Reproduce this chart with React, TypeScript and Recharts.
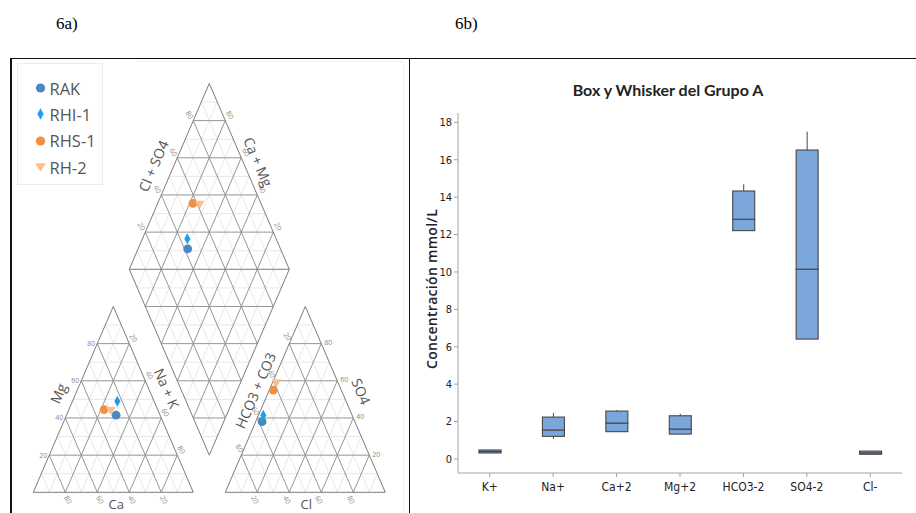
import React from "react";
import {
  ScatterChart,
  Scatter,
  XAxis,
  YAxis,
  ReferenceLine,
  Legend,
  ComposedChart,
  Bar,
} from "recharts";

// ---- Piper data (percent of meq) ----
const SAMPLES = ["RAK", "RHI-1", "RHS-1", "RH-2"];
const CA = [27.5, 23, 33.5, 29.5];
const MG = [41.5, 49, 44.5, 44];
const NAK = [31, 28, 22, 26.5];
const HCO3 = [58, 55.5, 42.5, 38.5];
const SO4 = [38, 41.5, 55, 59];
const CL = [4, 3, 2.5, 2.5];
const SAMPLE_COLORS = ["#4a88c1", "#1a9fea", "#f28f40", "#f8c08e"];
const SAMPLE_SHAPES = ["circle", "diamond", "circle", "triangle"];
const PIPER_TICKS = [20, 40, 60, 80];

// ---- box plot data (mmol/L) ----
const IONS = ["K+", "Na+", "Ca+2", "Mg+2", "HCO3-2", "SO4-2", "Cl-"];
const ION_MIN = [0.32, 1.07, 1.46, 1.33, 12.21, 6.41, 0.25];
const ION_Q1 = [0.32, 1.21, 1.46, 1.33, 12.21, 6.41, 0.25];
const ION_MEDIAN = [0.4, 1.55, 1.92, 1.6, 12.82, 10.15, 0.33];
const ION_Q3 = [0.48, 2.24, 2.56, 2.31, 14.33, 16.52, 0.42];
const ION_MAX = [0.48, 2.46, 2.62, 2.42, 14.69, 17.5, 0.42];
const Y_TICKS = [0, 2, 4, 6, 8, 10, 12, 14, 16, 18];

type Pt = { x: number; y: number };
const lerp = (p: Pt, q: Pt, t: number): Pt => ({ x: p.x + (q.x - p.x) * t, y: p.y + (q.y - p.y) * t });

// piper geometry, triangle side = 1
const GAP = 0.2;
const H = Math.sqrt(3) / 2;
const catA = { x: 0, y: 0 };
const catB = { x: 1, y: 0 };
const catC = { x: 0.5, y: H };
const anA = { x: 1 + GAP, y: 0 };
const anB = { x: 2 + GAP, y: 0 };
const anC = { x: 1.5 + GAP, y: H };
const dB = { x: 1 + GAP / 2, y: GAP * H };
const dL = { x: dB.x - 0.5, y: dB.y + H };
const dR = { x: dB.x + 0.5, y: dB.y + H };
const dT = { x: dB.x, y: dB.y + 2 * H };

const cationPt = (i: number): Pt => ({
  x: (NAK[i] + 0.5 * MG[i]) / 100,
  y: (H * MG[i]) / 100,
});
const anionPt = (i: number): Pt => ({
  x: anA.x + (CL[i] + 0.5 * SO4[i]) / 100,
  y: (H * SO4[i]) / 100,
});
const diamondPt = (i: number): Pt => {
  const a = (CL[i] + SO4[i]) / 100;
  const c = NAK[i] / 100;
  return {
    x: dL.x + a * (dT.x - dL.x) + c * (dB.x - dL.x),
    y: dL.y + a * (dT.y - dL.y) + c * (dB.y - dL.y),
  };
};

type Seg = { p: Pt; q: Pt; major: boolean };
function triangleGrid(A: Pt, B: Pt, C: Pt): Seg[] {
  const segs: Seg[] = [];
  for (let i = 1; i < 10; i++) {
    const t = i / 10;
    const major = i % 2 === 0;
    segs.push({ p: lerp(A, C, t), q: lerp(B, C, t), major });
    segs.push({ p: lerp(A, B, t), q: lerp(C, B, t), major });
    segs.push({ p: lerp(B, A, t), q: lerp(C, A, t), major });
  }
  return segs;
}
const gridSegs = [
  ...triangleGrid(catA, catB, catC),
  ...triangleGrid(anA, anB, anC),
  ...triangleGrid(dL, dR, dT),
  ...triangleGrid(dL, dR, dB),
];
const outlineSegs: [Pt, Pt][] = [
  [catA, catB], [catB, catC], [catC, catA],
  [anA, anB], [anB, anC], [anC, anA],
  [dL, dT], [dT, dR], [dR, dB], [dB, dL], [dL, dR],
];

type Lbl = Pt & { text: string; dx: number; dy: number; angle: number; size: number; color: string; anchor?: string };
const TICK_COLOR = "#8a8a8a";
const TITLE_COLOR = "#555";
const tickLbl = (p: Pt, v: number, dx: number, dy: number, angle: number, anchor?: string): Lbl => ({
  ...p, text: String(v), dx, dy, angle, size: 7, color: TICK_COLOR, anchor,
});
const titleLbl = (p: Pt, text: string, dx: number, dy: number, angle: number, size = 14): Lbl => ({
  ...p, text, dx, dy, angle, size, color: TITLE_COLOR,
});
const piperLabels: Lbl[] = [
  ...PIPER_TICKS.map((v) => tickLbl(lerp(catA, catC, v / 100), v, -2, 0, 0, "end")),
  ...PIPER_TICKS.map((v) => tickLbl(lerp(catC, catB, v / 100), v, 4, -5.5, 60)),
  ...PIPER_TICKS.map((v) => tickLbl(lerp(catB, catA, v / 100), v, 2.5, 7.5, 60)),
  ...PIPER_TICKS.map((v) => tickLbl(lerp(anC, anA, v / 100), v, -2, -7, 60)),
  ...PIPER_TICKS.map((v) => tickLbl(lerp(anB, anC, v / 100), v, 3, -1, 0, "start")),
  ...PIPER_TICKS.map((v) => tickLbl(lerp(anA, anB, v / 100), v, -2.5, 7.5, 60)),
  ...PIPER_TICKS.map((v) => tickLbl(lerp(dL, dT, v / 100), v, -4, -5.6, 60)),
  ...PIPER_TICKS.map((v) => tickLbl(lerp(dR, dT, v / 100), v, 4.5, -5.6, 60)),
  titleLbl(lerp(catA, catC, 0.5), "Mg", -15, -6, -66.7),
  titleLbl(lerp(catB, catC, 0.5), "Na + K", 13.5, -11, 66.7),
  titleLbl(lerp(catA, catB, 0.5), "Ca", 3, 12, 0, 13),
  titleLbl(lerp(anA, anC, 0.5), "HCO3 + CO3", -10, -9, -66.7),
  titleLbl(lerp(anB, anC, 0.5), "SO4", 16, -8, 66.7),
  titleLbl(lerp(anA, anB, 0.5), "Cl", 1, 12, 0, 13),
  titleLbl(lerp(dL, dT, 0.5), "Cl + SO4", -16, -10.5, -66.7),
  titleLbl(lerp(dT, dR, 0.5), "Ca + Mg", 9, -14.5, 66.7),
];

const PiperText = (props: any) => {
  const { cx, cy, payload } = props;
  if (cx == null || cy == null) return null;
  const x = cx + payload.dx;
  const y = cy + payload.dy;
  return (
    <text
      x={x}
      y={y}
      textAnchor={payload.anchor ?? "middle"}
      dominantBaseline="central"
      transform={payload.angle ? `rotate(${payload.angle} ${x} ${y})` : undefined}
      fontSize={payload.size}
      fill={payload.color}
      fontFamily="'Open Sans', sans-serif"
    >
      {payload.text}
    </text>
  );
};

const Marker = ({ cx, cy, kind, color, k = 1 }: { cx: number; cy: number; kind: string; color: string; k?: number }) => {
  if (kind === "diamond")
    return <path d={`M${cx},${cy - 5.5 * k} L${cx + 3 * k},${cy} L${cx},${cy + 5.5 * k} L${cx - 3 * k},${cy} Z`} fill={color} />;
  if (kind === "triangle")
    return <path d={`M${cx - 5 * k},${cy - 3.5 * k} L${cx + 5 * k},${cy - 3.5 * k} L${cx},${cy + 4.5 * k} Z`} fill={color} />;
  return <circle cx={cx} cy={cy} r={4.4 * k} fill={color} />;
};

const PiperLegend = () => (
  <div
    style={{
      width: 86,
      height: 122,
      border: "1px solid #ececec",
      boxSizing: "border-box",
      paddingTop: 11,
      fontFamily: "'Open Sans', sans-serif",
      fontSize: 16.5,
      color: "#555",
    }}
  >
    {SAMPLES.map((s, i) => (
      <div key={s} style={{ display: "flex", alignItems: "center", height: 26.3 }}>
        <svg width={32} height={20} style={{ flex: "none" }}>
          <Marker cx={22.5} cy={10} kind={SAMPLE_SHAPES[i]} color={SAMPLE_COLORS[i]} k={1.05} />
        </svg>
        <span>{s}</span>
      </div>
    ))}
  </div>
);

const PiperDiagram = () => (
  <ScatterChart width={400} height={455} margin={{ top: 0, right: 0, bottom: 0, left: 0 }}>
    <XAxis type="number" dataKey="x" domain={[-0.1456, 2.3544]} allowDataOverflow hide />
    <YAxis type="number" dataKey="y" domain={[-0.0964, 2.0238]} allowDataOverflow hide />
    {gridSegs
      .filter((s) => !s.major)
      .map((s, i) => (
        <ReferenceLine key={`mi${i}`} segment={[s.p, s.q]} stroke="#e2e2e2" strokeWidth={0.8} ifOverflow="visible" />
      ))}
    {gridSegs
      .filter((s) => s.major)
      .map((s, i) => (
        <ReferenceLine key={`ma${i}`} segment={[s.p, s.q]} stroke="#959595" strokeWidth={1} ifOverflow="visible" />
      ))}
    {outlineSegs.map(([p, q], i) => (
      <ReferenceLine key={`o${i}`} segment={[p, q]} stroke="#7c7c7c" strokeWidth={1} ifOverflow="visible" />
    ))}
    <Scatter data={piperLabels} shape={PiperText} isAnimationActive={false} legendType="none" />
    {SAMPLES.map((s, i) => (
      <Scatter
        key={s}
        name={s}
        data={[cationPt(i), anionPt(i), diamondPt(i)]}
        isAnimationActive={false}
        shape={(p: any) => <Marker cx={p.cx} cy={p.cy} kind={SAMPLE_SHAPES[i]} color={SAMPLE_COLORS[i]} />}
      />
    ))}
    <Legend
      layout="vertical"
      align="center"
      verticalAlign="middle"
      wrapperStyle={{ left: 6.5, top: 5 }}
      content={() => <PiperLegend />}
    />
  </ScatterChart>
);

// ---- box plot ----
const boxData = IONS.map((ion, i) => ({
  ion,
  base: ION_MIN[i],
  lowWhisker: ION_Q1[i] - ION_MIN[i],
  lowBox: ION_MEDIAN[i] - ION_Q1[i],
  highBox: ION_Q3[i] - ION_MEDIAN[i],
  highWhisker: ION_MAX[i] - ION_Q3[i],
}));

const BOX_FILL = "#7ba6da";
const BOX_STROKE = "#474747";
const FRAME = "#a3a3a3";
const NARROW = "'Liberation Sans Narrow', 'DejaVu Sans Condensed', sans-serif";

const Whisker = (props: any) => {
  const { x, y, width, height } = props;
  if (!height) return null;
  const mx = x + width / 2;
  return <line x1={mx} x2={mx} y1={y} y2={y + height} stroke={BOX_STROKE} strokeWidth={1} />;
};
const BoxPart = (props: any) => {
  const { x, y, width, height } = props;
  return <rect x={x} y={y} width={width} height={Math.max(height, 0)} fill={BOX_FILL} stroke={BOX_STROKE} strokeWidth={1.1} />;
};

const BoxPlot = () => (
  <ComposedChart width={506} height={453} data={boxData} margin={{ top: 53, right: 14, bottom: 10, left: 8 }} barSize={22}>
    <XAxis
      dataKey="ion"
      height={30}
      tickSize={4}
      tickMargin={5}
      axisLine={{ stroke: FRAME }}
      tickLine={{ stroke: FRAME }}
      tick={{ fontSize: 12, fill: "#222", fontFamily: NARROW }}
      interval={0}
    />
    <XAxis xAxisId="top" orientation="top" dataKey="ion" height={0} tick={false} tickLine={false} axisLine={{ stroke: FRAME }} />
    <YAxis
      type="number"
      domain={[-0.75, 18.5]}
      ticks={Y_TICKS}
      allowDataOverflow
      width={40}
      tickSize={4}
      tickMargin={2}
      axisLine={{ stroke: FRAME }}
      tickLine={{ stroke: FRAME }}
      tick={{ fontSize: 11, fill: "#222", fontFamily: NARROW }}
    />
    <YAxis yAxisId="right" orientation="right" width={0} domain={[-0.75, 18.5]} allowDataOverflow tick={false} tickLine={false} axisLine={{ stroke: FRAME }} />
    <Bar dataKey="base" stackId="b" fill="none" isAnimationActive={false} />
    <Bar dataKey="lowWhisker" stackId="b" shape={Whisker} isAnimationActive={false} />
    <Bar dataKey="lowBox" stackId="b" shape={BoxPart} isAnimationActive={false} />
    <Bar dataKey="highBox" stackId="b" shape={BoxPart} isAnimationActive={false} />
    <Bar dataKey="highWhisker" stackId="b" shape={Whisker} isAnimationActive={false} />
  </ComposedChart>
);

export default function App() {
  return (
    <div style={{ position: "absolute", left: 0, top: 0, width: 916, height: 513, background: "#fff", overflow: "hidden" }}>
      <div style={{ position: "absolute", left: 56, top: 14, fontFamily: "'Liberation Serif', serif", fontSize: 17, lineHeight: "20px" }}>6a)</div>
      <div style={{ position: "absolute", left: 455, top: 14, fontFamily: "'Liberation Serif', serif", fontSize: 17, lineHeight: "20px" }}>6b)</div>
      {/* panel rules */}
      <div style={{ position: "absolute", left: 10, top: 57.5, width: 906, height: 1.5, background: "#111" }} />
      <div style={{ position: "absolute", left: 10, top: 57.5, width: 2, height: 456, background: "#111" }} />
      <div style={{ position: "absolute", left: 408.5, top: 57.5, width: 1.8, height: 456, background: "#111" }} />
      <div style={{ position: "absolute", left: 138, top: 61, width: 265, height: 470, borderTop: "1px solid #f0f0f0", borderRight: "1px solid #f0f0f0" }} />

      <div style={{ position: "absolute", left: 10, top: 58 }}>
        <PiperDiagram />
      </div>

      <div style={{ position: "absolute", left: 410, top: 60 }}>
        <BoxPlot />
      </div>
      <div
        style={{
          position: "absolute",
          left: 518,
          width: 300,
          top: 80,
          lineHeight: "20px",
          textAlign: "center",
          fontFamily: "Lato, sans-serif",
          fontWeight: 700,
          fontSize: 16,
          color: "#222",
        }}
      >
        Box y Whisker del Grupo A
      </div>
      <div
        style={{
          position: "absolute",
          left: 332,
          top: 279,
          width: 200,
          lineHeight: "20px",
          textAlign: "center",
          transform: "rotate(-90deg)",
          fontFamily: "'Open Sans', sans-serif",
          fontWeight: 600,
          fontSize: 14,
          letterSpacing: 0.3,
          color: "#222",
        }}
      >
        Concentración mmol/L
      </div>
    </div>
  );
}
